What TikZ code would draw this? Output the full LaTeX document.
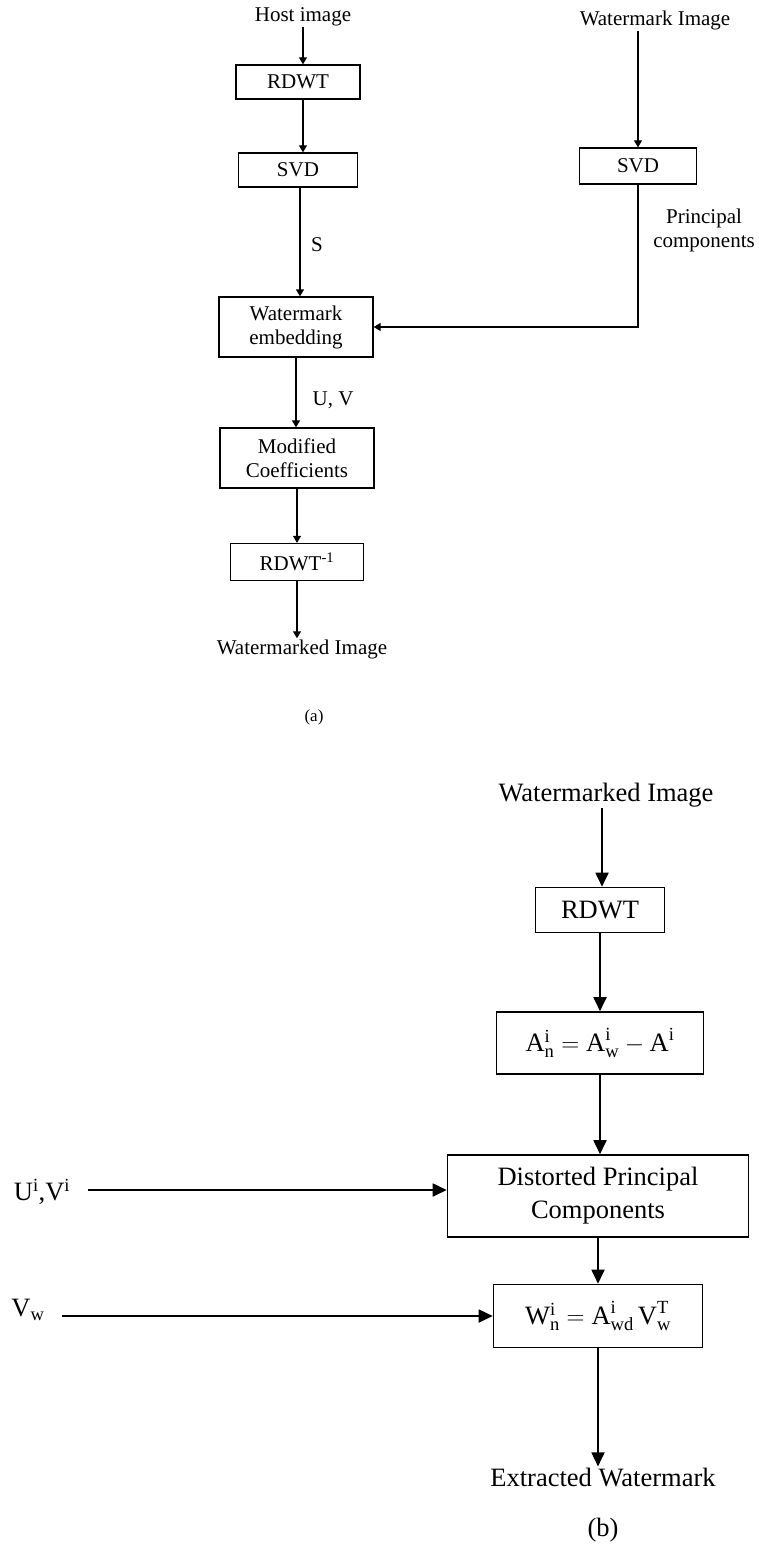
\documentclass[tikz,border=0pt]{standalone}
\usepackage{amsmath}
\usepackage{fontspec}
\setmainfont{Liberation Serif}
\usetikzlibrary{arrows.meta}
\newcommand\fa{\fontsize{21}{24}\selectfont}
\newcommand\fb{\fontsize{26.5}{33}\selectfont}
\begin{document}
\begin{tikzpicture}[x=1pt,y=-1pt,
  boxa/.style={draw, line width=1.3pt, inner sep=0pt, align=center, font=\fa},
  boxb/.style={draw, line width=1.6pt, inner sep=0pt, align=center, font=\fb},
  txta/.style={inner sep=1pt, align=center, font=\fa},
  txtb/.style={inner sep=1pt, align=center, font=\fb},
  arra/.style={line width=1.3pt, -{Triangle[length=7pt,width=8pt]}},
  arrb/.style={line width=1.8pt, -{Triangle[length=14pt,width=13pt]}}]
\useasboundingbox (0,0) rectangle (758,1546);
% ---------- (a) ----------
\node[txta] (host) at (303,17) {Host image};
\node[boxa, minimum width=124pt, minimum height=34pt] (rdwt1) at (298,82) {RDWT};
\node[boxa, minimum width=119pt, minimum height=34pt] (svd1) at (298,170) {SVD};
\node[boxa, minimum width=154pt, minimum height=60pt] (we) at (296,327) {Watermark\\embedding};
\node[boxa, minimum width=154pt, minimum height=60pt] (mod) at (297,458) {Modified\\Coefficients};
\node[boxa, minimum width=133pt, minimum height=37pt] (rinv) at (297,562) {RDWT\textsuperscript{-1}};
\node[txta] (wmi) at (302,649) {Watermarked Image};
\node[txta, font=\fontsize{17}{20}\selectfont] (la) at (314,717) {(a)};
\node[txta] (wmk) at (655,20) {Watermark Image};
\node[boxa, minimum width=117pt, minimum height=36pt] (svd2) at (638,166) {SVD};
\node[txta] (pc) at (704,230) {Principal\\components};
\node[txta] (s) at (317,245) {S};
\node[txta] (uv) at (333,400) {U, V};
\draw[arra] (host.south) -- (host.south |- rdwt1.north);
\draw[arra] (rdwt1.south -| 303,0) -- (svd1.north -| 303,0);
\draw[arra] (svd1.south -| 300,0) -- (we.north -| 300,0);
\draw[arra] (we.south) -- (mod.north -| we.south);
\draw[arra] (mod.south) -- (rinv.north -| mod.south);
\draw[arra] (rinv.south) -- (wmi.north -| rinv.south);
\draw[arra] (wmk.south -| svd2.north) -- (svd2.north);
\draw[arra] (svd2.south) |- (we.east);
% ---------- (b) ----------
\node[txtb] (wmb) at (606,795) {Watermarked Image};
\node[boxb, minimum width=129pt, minimum height=45pt] (rdwt2) at (600,910) {RDWT};
\node[boxb, minimum width=207pt, minimum height=62pt] (an) at (600,1043)
  {A$^{\text{i}}_{\text{n}}=\text{A}^{\text{i}}_{\text{w}}-\text{A}^{\text{i}}$};
\node[boxb, minimum width=301pt, minimum height=82pt] (dist) at (598,1196) {Distorted Principal\\Components};
\node[boxb, minimum width=209pt, minimum height=63pt] (wn) at (598,1316)
  {W$^{\text{i}}_{\text{n}}=\text{A}^{\text{i}}_{\text{wd}}\,\text{V}^{\text{T}}_{\text{w}}$};
\node[txtb] (uvi) at (42,1192) {U$^{\text{i}}$,V$^{\text{i}}$};
\node[txtb] (vw) at (28,1310) {V$_{\text{w}}$};
\coordinate (uvs) at (88,1190);
\coordinate (vws) at (62,1316);
\node[txtb] (ext) at (603,1477) {Extracted Watermark};
\node[txtb] (lb) at (603,1530) {(b)};
\draw[arrb] (wmb.south -| 602,0) -- (rdwt2.north -| 602,0);
\draw[arrb] (rdwt2.south) -- (an.north);
\draw[arrb] (an.south) -- (dist.north -| an.south);
\draw[arrb] (dist.south) -- (wn.north -| dist.south);
\draw[arrb] (wn.south) -- (ext.north -| wn.south);
\draw[arrb] (uvs) -- (uvs -| dist.west);
\draw[arrb] (vws) -- (vws -| wn.west);
\end{tikzpicture}
\end{document}
